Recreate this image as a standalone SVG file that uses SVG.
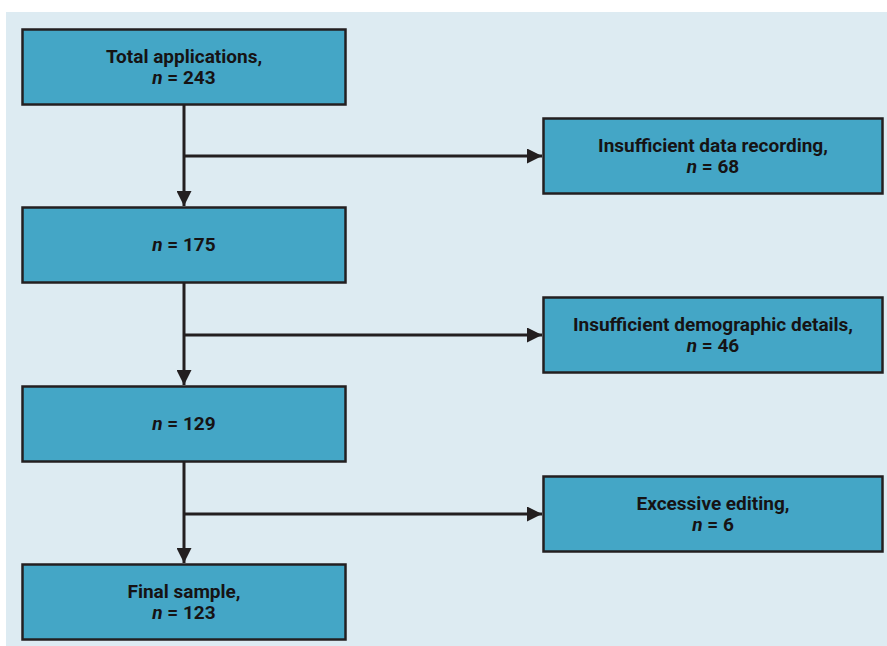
<svg xmlns="http://www.w3.org/2000/svg" width="887" height="646" viewBox="0 0 887 646">
<style>
.bx{fill:#44a6c6;stroke:#231f20;stroke-width:2.5}
.t{font-family:Roboto,"Liberation Sans",sans-serif;font-weight:bold;font-size:19px;fill:#161314;text-anchor:middle}
.n{font-style:italic}
.c{stroke:#231f20;stroke-width:3;fill:none}
</style>
<defs>
<marker id="ah" markerWidth="5" markerHeight="5" refX="5" refY="2.5" orient="auto" markerUnits="strokeWidth">
<path d="M0,0 L5,2.5 L0,5 Z" fill="#231f20"/>
</marker>
</defs>
<rect x="0" y="0" width="887" height="646" fill="#ffffff"/>
<rect x="6" y="12" width="881" height="634" fill="#ddebf2"/>
<g id="connectors">
<path class="c" d="M184,104 V206" marker-end="url(#ah)"/>
<path class="c" d="M184,156 H542" marker-end="url(#ah)"/>
<path class="c" d="M184,283 V385" marker-end="url(#ah)"/>
<path class="c" d="M184,335 H542" marker-end="url(#ah)"/>
<path class="c" d="M184,461 V563" marker-end="url(#ah)"/>
<path class="c" d="M184,514 H542" marker-end="url(#ah)"/>
</g>
<g id="total">
<rect class="bx" x="22.5" y="29.5" width="323" height="75"/>
<text class="t" x="184" y="63">Total applications,</text>
<text class="t" x="184" y="84"><tspan class="n">n</tspan> = 243</text>
</g>
<g id="n175">
<rect class="bx" x="22.5" y="207.5" width="323" height="75"/>
<text class="t" x="184" y="251"><tspan class="n">n</tspan> = 175</text>
</g>
<g id="n129">
<rect class="bx" x="22.5" y="386.5" width="323" height="75"/>
<text class="t" x="184" y="430"><tspan class="n">n</tspan> = 129</text>
</g>
<g id="final">
<rect class="bx" x="22.5" y="564.5" width="323" height="75"/>
<text class="t" x="184" y="598">Final sample,</text>
<text class="t" x="184" y="619"><tspan class="n">n</tspan> = 123</text>
</g>
<g id="excl1">
<rect class="bx" x="543.5" y="118.5" width="339" height="75"/>
<text class="t" x="713" y="152">Insufficient data recording,</text>
<text class="t" x="713" y="173"><tspan class="n">n</tspan> = 68</text>
</g>
<g id="excl2">
<rect class="bx" x="543.5" y="297.5" width="339" height="75"/>
<text class="t" x="713" y="331">Insufficient demographic details,</text>
<text class="t" x="713" y="352"><tspan class="n">n</tspan> = 46</text>
</g>
<g id="excl3">
<rect class="bx" x="543.5" y="476.5" width="339" height="75"/>
<text class="t" x="713" y="510">Excessive editing,</text>
<text class="t" x="713" y="531"><tspan class="n">n</tspan> = 6</text>
</g>
</svg>
